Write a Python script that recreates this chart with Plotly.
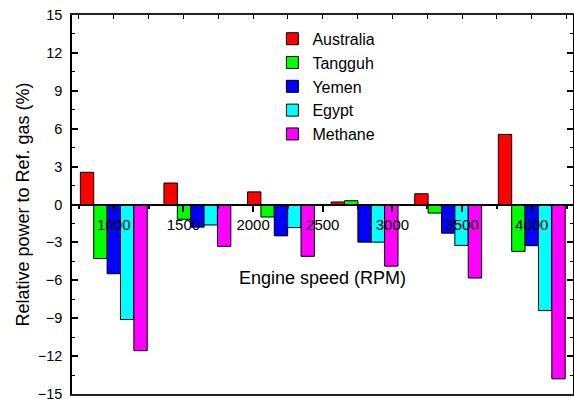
import plotly.graph_objects as go

# Data
engine_speed = [1000, 1600, 2200, 2800, 3400, 4000]
series_names = ["Australia", "Tangguh", "Yemen", "Egypt", "Methane"]
australia = [2.55, 1.70, 1.00, 0.20, 0.85, 5.55]
tangguh = [-4.28, -1.17, -0.99, 0.30, -0.68, -3.71]
yemen = [-5.48, -1.79, -2.48, -2.98, -2.27, -3.26]
egypt = [-9.11, -1.62, -1.83, -2.98, -3.24, -8.40]
methane = [-11.57, -3.31, -4.10, -4.88, -5.82, -13.80]
colors = ["#FF0000", "#00FF00", "#0000FF", "#00FFFF", "#FF00FF"]

x_ticks = [1000, 1500, 2000, 2500, 3000, 3500, 4000]
y_ticks = [-15, -12, -9, -6, -3, 0, 3, 6, 9, 12, 15]

FONT = "Arial, Liberation Sans, sans-serif"

fig = go.Figure()
for name, vals, col in zip(series_names, [australia, tangguh, yemen, egypt, methane], colors):
    fig.add_trace(go.Bar(
        x=engine_speed, y=vals, name=name,
        marker=dict(color=col, line=dict(color="black", width=1)),
    ))

# dummy trace for the top (mirror) axis
fig.add_trace(go.Scatter(x=[None], y=[None], xaxis="x2", showlegend=False, hoverinfo="skip"))

xr = [700, 4296]
fig.update_layout(
    width=574, height=403,
    margin=dict(l=72, r=1, t=15, b=9),
    paper_bgcolor="white", plot_bgcolor="white",
    font=dict(family=FONT, color="black", size=15),
    barmode="group", bargap=0.2, bargroupgap=0,
    showlegend=True,
    legend=dict(
        x=0.40, y=0.982, xanchor="left", yanchor="top",
        bgcolor="rgba(0,0,0,0)", font=dict(size=16, family=FONT),
        tracegroupgap=0, itemwidth=30,
    ),
    xaxis=dict(
        range=xr, anchor="free", position=0.5, automargin=False,
        tickmode="array", tickvals=x_ticks, ticktext=[str(v) for v in x_ticks],
        ticks="outside", ticklen=7, tickwidth=1.5, tickcolor="black",
        minor=dict(ticks="outside", ticklen=4, tickwidth=1.5, dtick=250, tick0=0, tickcolor="black"),
        showline=True, linecolor="black", linewidth=1.5,
        showgrid=False, zeroline=False,
        tickfont=dict(size=15),
        title=dict(text="Engine speed (RPM)", font=dict(size=18), standoff=38),
    ),
    xaxis2=dict(
        range=xr, overlaying="x", side="top", anchor="y", automargin=False,
        showticklabels=False, ticks="inside", ticklen=4, tickwidth=1,
        dtick=250, tick0=0, tickcolor="black",
        showline=True, linecolor="#222222", linewidth=1.5, mirror=True,
        showgrid=False, zeroline=False,
    ),
    yaxis=dict(
        range=[-15, 15], tickmode="array", tickvals=y_ticks, automargin=False,
        ticks="inside", ticklen=6, tickwidth=1.5, tickcolor="black",
        minor=dict(ticks="inside", ticklen=3, tickwidth=1, dtick=1.5, tick0=0, tickcolor="black"),
        showline=True, linecolor="black", linewidth=1.5, mirror="ticks",
        showgrid=False, zeroline=False,
        tickfont=dict(size=14.5), ticklabelstandoff=5, ticklabeloverflow="allow",
        title=dict(text="Relative power to Ref. gas (%)", font=dict(size=18), standoff=3),
    ),
)

fig.write_html("out.html")
